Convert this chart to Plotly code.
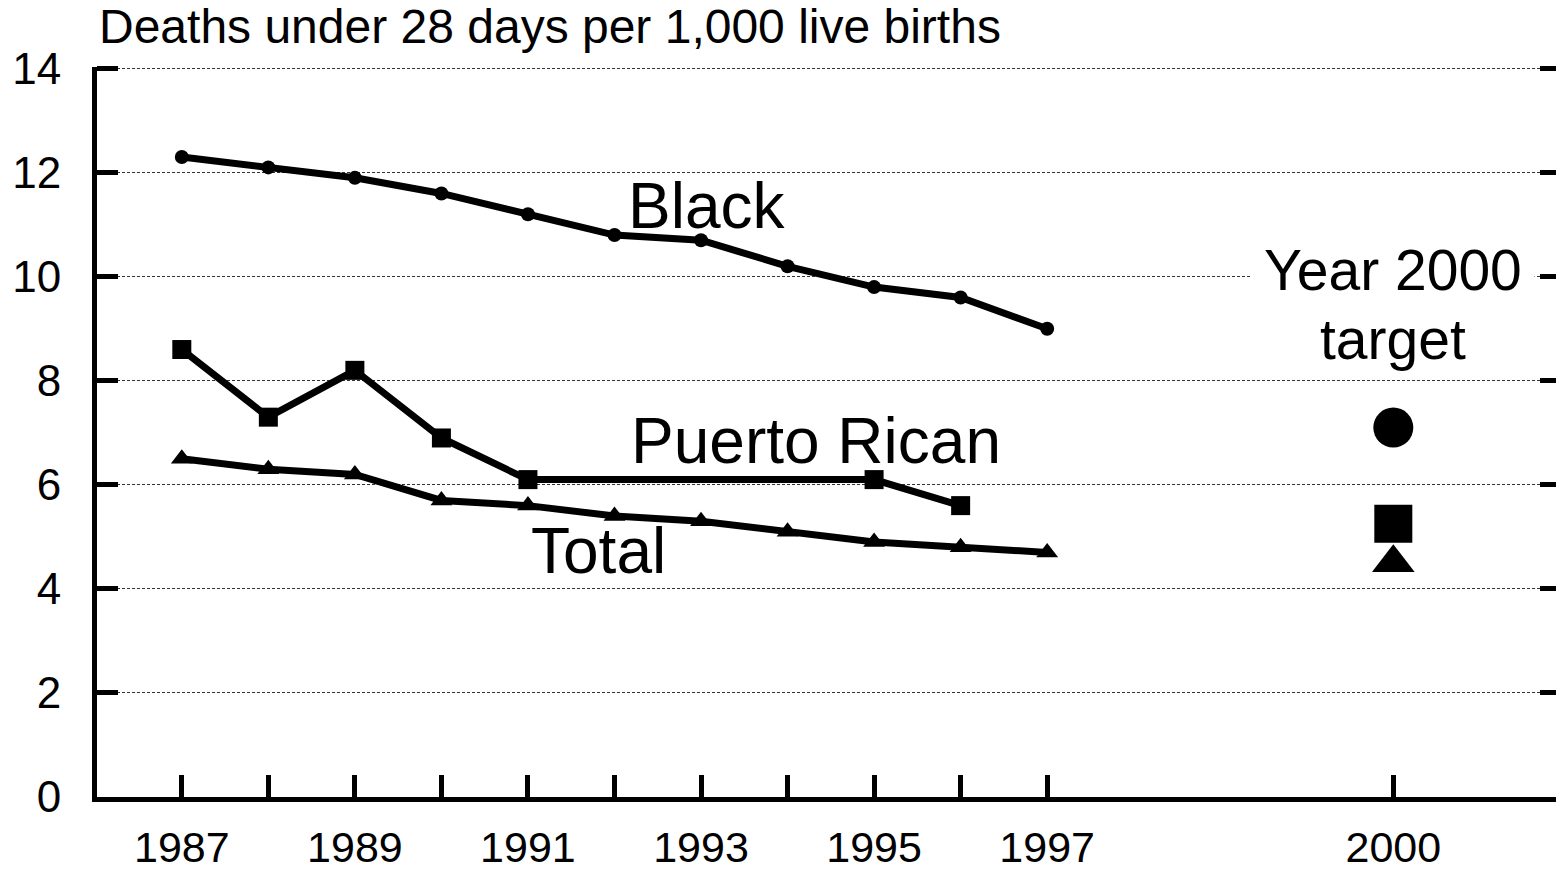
import plotly.graph_objects as go

# ---- data ----
years = [1987, 1988, 1989, 1990, 1991, 1992, 1993, 1994, 1995, 1996, 1997]
black = [12.3, 12.1, 11.9, 11.6, 11.2, 10.8, 10.7, 10.2, 9.8, 9.6, 9.0]
puerto_rican = [8.6, 7.3, 8.2, 6.9, 6.1, None, None, None, 6.1, 5.6, None]
total = [6.5, 6.3, 6.2, 5.7, 5.6, 5.4, 5.3, 5.1, 4.9, 4.8, 4.7]

target_year = 2000
target_black = 7.1
target_puerto_rican = 5.25
target_total = 4.5

y_ticks = [0, 2, 4, 6, 8, 10, 12, 14]
x_tick_years = years + [target_year]
x_tick_labels = ["1987", "", "1989", "", "1991", "", "1993", "", "1995", "", "1997", "2000"]

title_text = "Deaths under 28 days per 1,000 live births"

# axis break: years after the break are shifted one slot right
BREAK_SHIFT = 1


def pos(y):
    return y + BREAK_SHIFT if y >= 2000 else y


FONT = "Liberation Sans, Arial, sans-serif"
BLACK = "#000000"

fig = go.Figure()

fig.add_trace(go.Scatter(x=[pos(y) for y in years], y=black, mode="lines+markers",
                         line=dict(color=BLACK, width=7),
                         marker=dict(symbol="circle", size=14, color=BLACK),
                         showlegend=False))
fig.add_trace(go.Scatter(x=[pos(y) for y in years], y=puerto_rican, mode="lines+markers",
                         connectgaps=True,
                         line=dict(color=BLACK, width=7),
                         marker=dict(symbol="square", size=19, color=BLACK),
                         showlegend=False))
fig.add_trace(go.Scatter(x=[pos(y) for y in years], y=total, mode="lines+markers",
                         line=dict(color=BLACK, width=7),
                         marker=dict(symbol="triangle-up", size=19, color=BLACK),
                         showlegend=False))

# targets
fig.add_trace(go.Scatter(x=[pos(target_year)], y=[target_black], mode="markers",
                         marker=dict(symbol="circle", size=40, color=BLACK), showlegend=False))
fig.add_trace(go.Scatter(x=[pos(target_year)], y=[target_puerto_rican], mode="markers",
                         marker=dict(symbol="square", size=38, color=BLACK), showlegend=False))
fig.add_trace(go.Scatter(x=[pos(target_year)], y=[target_total], mode="markers",
                         marker=dict(symbol="triangle-up", size=37, color=BLACK), showlegend=False))

# transparent trace so the mirrored right tick axis gets drawn
fig.add_trace(go.Scatter(x=[years[0]], y=[y_ticks[0]], yaxis="y2", mode="markers",
                         marker=dict(opacity=0), showlegend=False, hoverinfo="skip"))

label_font = dict(family=FONT, size=64, color=BLACK)
fig.add_annotation(x=1993.07, y=11.35, text="Black", showarrow=False, font=label_font,
                   xanchor="center", yanchor="middle")
fig.add_annotation(x=1994.33, y=6.85, text="Puerto Rican", showarrow=False, font=label_font,
                   xanchor="center", yanchor="middle")
fig.add_annotation(x=1991.82, y=4.72, text="Total", showarrow=False, font=label_font,
                   xanchor="center", yanchor="middle")
target_font = dict(family=FONT, size=57, color=BLACK)
fig.add_annotation(x=pos(target_year), y=10.12, text="Year 2000", showarrow=False,
                   font=target_font, bgcolor="white",
                   borderpad=12, xanchor="center", yanchor="middle")
fig.add_annotation(x=pos(target_year), y=8.8, text="target", showarrow=False,
                   font=target_font, xanchor="center", yanchor="middle")

fig.add_annotation(x=0, xref="paper", y=1.056, yref="paper", text=title_text, showarrow=False,
                   font=dict(family=FONT, size=48, color=BLACK), xanchor="left", yanchor="middle")

fig.update_layout(
    width=1556, height=871,
    margin=dict(l=97, r=0, t=67, b=74, autoexpand=False),
    paper_bgcolor="white", plot_bgcolor="white",
    font=dict(family=FONT, color=BLACK),
    xaxis=dict(range=[1986.02, 2002.88], tickmode="array",
               tickvals=[pos(y) for y in x_tick_years], ticktext=x_tick_labels,
               ticks="inside", ticklen=22, tickwidth=5, tickcolor=BLACK,
               showline=True, linewidth=5, linecolor=BLACK,
               showgrid=False, zeroline=False, automargin=False,
               tickfont=dict(family=FONT, size=43, color=BLACK),
               ticklabelstandoff=8),
    yaxis=dict(range=[0, 14.03], tickmode="array", tickvals=y_ticks,
               ticks="inside", ticklen=21, tickwidth=5, tickcolor=BLACK,
               showline=True, linewidth=5, linecolor=BLACK,
               showgrid=True, gridcolor="#333333", gridwidth=1, griddash="3px,2px",
               zeroline=False, automargin=False,
               tickfont=dict(family=FONT, size=44, color=BLACK),
               ticklabelstandoff=22),
    yaxis2=dict(range=[0, 14.03], overlaying="y", side="right", tickmode="array", tickvals=y_ticks,
                ticks="inside", ticklen=16, tickwidth=5, tickcolor=BLACK, automargin=False,
                showline=False, showgrid=False, zeroline=False, showticklabels=False),
)

fig.write_html("out.html", config={"displayModeBar": False},
               post_script="document.body.style.margin='0';")
